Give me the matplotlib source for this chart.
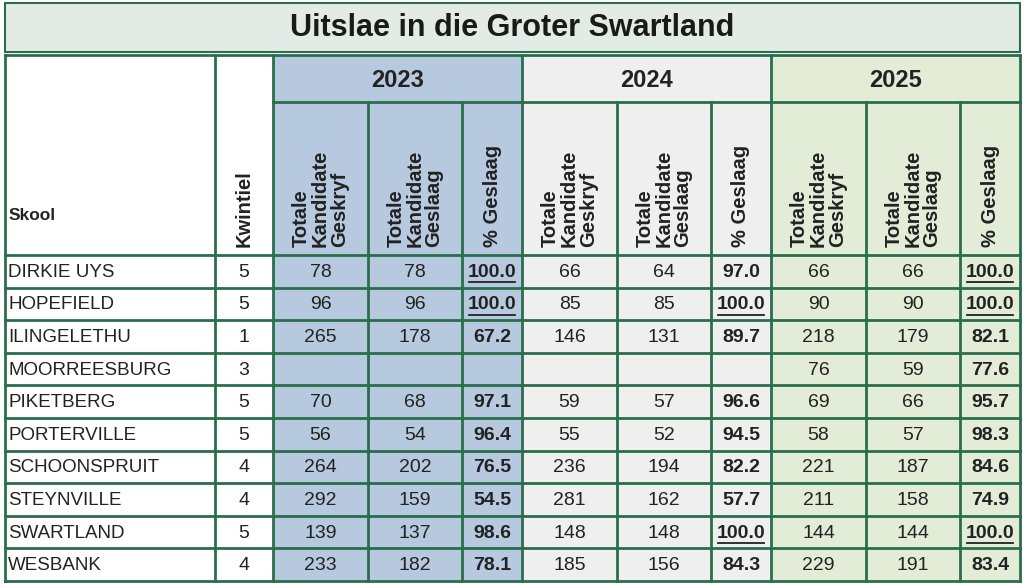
import matplotlib
matplotlib.use("Agg")
import matplotlib.pyplot as plt
from matplotlib.patches import Rectangle

title = "Uitslae in die Groter Swartland"
schools = ["DIRKIE UYS","HOPEFIELD","ILINGELETHU","MOORREESBURG","PIKETBERG","PORTERVILLE",
           "SCHOONSPRUIT","STEYNVILLE","SWARTLAND","WESBANK"]
kwintiel = [5,5,1,3,5,5,4,4,5,4]
years = ["2023","2024","2025"]
written = {"2023":[78,96,265,None,70,56,264,292,139,233],
           "2024":[66,85,146,None,59,55,236,281,148,185],
           "2025":[66,90,218,76,69,58,221,211,144,229]}
passed = {"2023":[78,96,178,None,68,54,202,159,137,182],
          "2024":[64,85,131,None,57,52,194,162,148,156],
          "2025":[66,90,179,59,66,57,187,158,144,191]}
pct = {"2023":[100.0,100.0,67.2,None,97.1,96.4,76.5,54.5,98.6,78.1],
       "2024":[97.0,100.0,89.7,None,96.6,94.5,82.2,57.7,100.0,84.3],
       "2025":[100.0,100.0,82.1,77.6,95.7,98.3,84.6,74.9,100.0,83.4]}
sub_headers = ["Totale\nKandidate\nGeskryf","Totale\nKandidate\nGeslaag","% Geslaag"]

FAM = ["Liberation Sans Narrow","Liberation Sans","DejaVu Sans"]
plt.rcParams['font.family'] = FAM
year_colors = {"2023":"#b7c9df","2024":"#efefef","2025":"#e2ecd6"}
line = "#2a6e4c"

fig = plt.figure(figsize=(10.24,5.84), dpi=100)
ax = fig.add_axes([0,0,1,1])
ax.set_xlim(0,1024); ax.set_ylim(584,0); ax.axis("off")

ax.add_patch(Rectangle((5,3),1015,49,facecolor="#e3ebe7",edgecolor=line,lw=1.5))
ax.text(512,28,title,ha="center",va="center",fontsize=22,fontweight="bold",color="#1a1a1a")

xs = [5,215,273,368,462,522,617,711,771,866,960,1020]
top, yr_bot, hdr_bot = 55, 102, 255
rows = [255+32.6*i for i in range(11)]
bottom = rows[-1]

ax.add_patch(Rectangle((5,top),1015,bottom-top,facecolor="white",edgecolor="none"))
for k,y in enumerate(years):
    x0 = xs[2+3*k]; x1 = xs[5+3*k]
    ax.add_patch(Rectangle((x0,top),x1-x0,bottom-top,facecolor=year_colors[y],edgecolor="none"))
    ax.text((x0+x1)/2,(top+yr_bot)/2+2,y,ha="center",va="center",fontsize=17,fontweight="bold",color="#222")
    for j,h in enumerate(sub_headers):
        cx = (xs[2+3*k+j]+xs[3+3*k+j])/2
        ax.text(cx,hdr_bot-8,h,rotation=90,ha="center",va="bottom",fontsize=14.5,
                fontweight="bold",color="#222",linespacing=1.0,multialignment="left")

ax.text(9,hdr_bot-40,"Skool",ha="left",va="center",fontsize=12.5,fontweight="bold",color="#222")
ax.text((xs[1]+xs[2])/2,hdr_bot-8,"Kwintiel",rotation=90,ha="center",va="bottom",
        fontsize=14.5,fontweight="bold",color="#222")

for i,s in enumerate(schools):
    cy = (rows[i]+rows[i+1])/2 + 1
    ax.text(8,cy,s,ha="left",va="center",fontsize=13.5,color="#222")
    ax.text((xs[1]+xs[2])/2,cy,str(kwintiel[i]),ha="center",va="center",fontsize=14,color="#222")
    for k,y in enumerate(years):
        vals = [written[y][i],passed[y][i],pct[y][i]]
        for j,v in enumerate(vals):
            if v is None: continue
            cx = (xs[2+3*k+j]+xs[3+3*k+j])/2
            if j < 2:
                ax.text(cx,cy,str(v),ha="center",va="center",fontsize=14,color="#222")
            else:
                t = f"{v:.1f}"
                ax.text(cx,cy,t,ha="center",va="center",fontsize=14,fontweight="bold",color="#222")
                if v >= 100:
                    ax.plot([cx-23,cx+23],[cy+10,cy+10],color="#222",lw=1.3)

lw = 2
for x in xs:
    y0 = top
    if x in (xs[3],xs[4],xs[6],xs[7],xs[9],xs[10]): y0 = yr_bot
    ax.plot([x,x],[y0,bottom],color=line,lw=lw)
ax.plot([xs[0],xs[-1]],[top,top],color=line,lw=lw)
ax.plot([xs[2],xs[-1]],[yr_bot,yr_bot],color=line,lw=lw)
for y in rows:
    ax.plot([xs[0],xs[-1]],[y,y],color=line,lw=lw)

fig.savefig("out.png",dpi=100)
